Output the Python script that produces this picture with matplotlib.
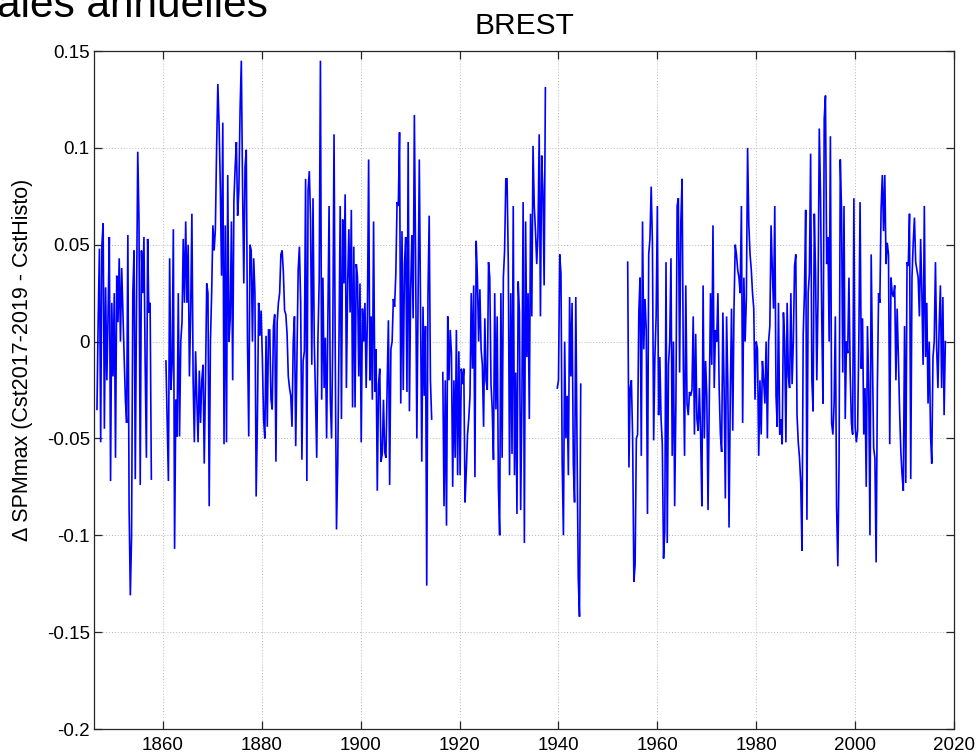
import numpy as np
import matplotlib
matplotlib.use('Agg')
import matplotlib.pyplot as plt

# ---------------- data (quarterly readings, gaps between segments) ----------------
step = 0.25
seg_starts = [1846.65, 1860.6, 1916.6, 1939.75, 1954.0]

seg_a = [-0.035, 0.012, 0.048, -0.052, 0.05, 0.061, -0.045, 0.028, -0.02, 0.015,
         0.054, -0.072, 0.02, -0.018, 0.025, -0.06, 0.034, 0.01, 0.043, 0.0,
         0.038, 0.015, -0.008, -0.03, -0.042, 0.055, -0.086, -0.131, -0.1, 0.025,
         0.047, -0.071, 0.02, 0.098, 0.062, -0.074, 0.047, 0.025, 0.054, -0.012,
         -0.06, 0.053, 0.015, 0.02, -0.071]

seg_b = [-0.01, -0.041, -0.072, 0.043, -0.025, -0.012, 0.058, -0.107, -0.03, -0.049,
         0.025, -0.049, 0.0, 0.01, 0.053, 0.02, 0.062, 0.02, 0.05, -0.018,
         0.015, 0.066, -0.02, -0.052, -0.005, -0.03, -0.052, -0.015, -0.042, -0.02,
         -0.012, -0.063, -0.02, 0.03, 0.025, -0.085, 0.0, 0.025, 0.06, 0.047,
         0.058, 0.1, 0.133, 0.112, 0.08, 0.034, 0.113, -0.053, 0.06, -0.052,
         0.086, 0.0, 0.012, 0.062, -0.02, 0.073, 0.09, 0.103, 0.065, 0.078,
         0.12, 0.145, 0.08, 0.03, 0.09, 0.099, 0.0, -0.049, 0.05, 0.047,
         0.0, 0.043, 0.025, -0.08, -0.04, 0.02, 0.003, 0.016, -0.008, -0.04,
         -0.05, 0.003, -0.044, 0.006, 0.006, -0.03, -0.035, 0.008, 0.014, -0.062,
         0.01, 0.02, 0.025, 0.045, 0.047, 0.036, 0.016, 0.014, 0.004, -0.018,
         -0.024, -0.028, -0.044, 0.0, 0.013, -0.054, -0.008, 0.037, 0.049, 0.02,
         -0.061, -0.01, -0.005, 0.084, -0.072, 0.078, 0.088, 0.063, -0.012, 0.074,
         0.0, -0.028, -0.06, 0.002, 0.032, 0.145, -0.03, 0.033, -0.024, 0.002,
         -0.05, 0.01, 0.07, -0.03, -0.05, 0.003, 0.107, -0.008, -0.097, -0.063,
         0.0, 0.07, -0.04, 0.063, 0.03, 0.076, -0.024, 0.029, 0.058, 0.015,
         0.068, -0.034, 0.049, -0.034, 0.04, 0.033, -0.018, 0.03, -0.052, 0.017,
         0.0, 0.02, -0.024, 0.013, 0.094, -0.02, 0.013, -0.03, 0.062, -0.026,
         -0.004, -0.077, -0.022, -0.014, -0.062, -0.058, -0.03, -0.057, -0.06, -0.022,
         0.011, -0.074, -0.004, 0.0, 0.022, 0.018, 0.035, 0.072, 0.07, 0.108,
         -0.032, 0.057, -0.025, 0.04, 0.054, -0.026, 0.103, -0.036, 0.027, 0.055,
         0.012, 0.117, 0.043, -0.05, 0.025, 0.094, 0.013, -0.062, 0.018, -0.028,
         0.008, -0.126, 0.023, 0.065, -0.02, -0.04]

seg_c = [-0.016, -0.085, -0.02, -0.095, 0.013, -0.02, 0.006, -0.006, -0.075, -0.02,
         -0.06, 0.006, -0.069, -0.005, -0.069, -0.014, -0.022, -0.014, -0.083, -0.067,
         -0.048, -0.04, -0.028, 0.025, -0.014, 0.029, -0.07, 0.052, 0.033, 0.0,
         0.027, -0.004, -0.012, -0.044, 0.012, -0.02, -0.025, 0.041, 0.033, -0.022,
         -0.035, -0.061, 0.025, -0.035, 0.013, -0.075, -0.1, 0.025, -0.06, 0.033,
         0.047, 0.084, 0.084, 0.04, -0.069, 0.025, -0.058, 0.07, -0.069, -0.016,
         -0.089, 0.031, 0.015, -0.087, -0.03, 0.072, -0.104, 0.062, -0.008, 0.025,
         -0.04, 0.066, 0.013, 0.101, 0.07, 0.057, 0.04, 0.056, 0.107, 0.013,
         0.096, 0.078, 0.029, 0.131]

seg_d = [-0.024, -0.02, 0.045, 0.035, -0.063, -0.1, 0.0, -0.05, -0.028, -0.069,
         0.023, -0.018, 0.02, -0.063, -0.083, 0.023, -0.053, -0.122, -0.142, -0.022]

seg_e = [0.041, -0.065, -0.024, -0.02, -0.05, -0.124, -0.115, -0.05, -0.048, 0.015,
         0.033, -0.059, 0.062, -0.004, 0.022, 0.006, -0.089, 0.045, 0.053, 0.08,
         0.051, -0.051, -0.008, 0.013, 0.07, -0.038, -0.008, -0.04, -0.053, -0.112,
         -0.098, 0.041, -0.104, -0.012, 0.0, 0.043, -0.059, 0.0, -0.085, -0.032,
         0.07, 0.074, -0.016, 0.062, 0.084, -0.012, -0.059, 0.029, -0.032, -0.038,
         -0.026, -0.028, -0.025, 0.013, -0.048, 0.004, -0.04, -0.046, -0.024, -0.048,
         -0.085, 0.029, -0.05, -0.01, -0.028, -0.087, -0.032, 0.025, -0.012, 0.06,
         -0.024, 0.006, 0.0, 0.025, -0.024, -0.048, -0.057, 0.015, -0.024, -0.081,
         0.013, -0.022, -0.096, -0.028, 0.017, -0.046, 0.017, 0.05, 0.045, 0.037,
         0.033, 0.025, 0.07, -0.042, 0.033, 0.0, 0.022, 0.1, 0.06, 0.045,
         0.037, 0.025, 0.017, -0.03, 0.0, -0.004, -0.059, -0.02, -0.048, -0.01,
         -0.02, -0.032, 0.0, -0.05, 0.0, 0.008, 0.06, 0.037, 0.017, 0.07,
         -0.028, -0.044, 0.02, -0.048, -0.04, -0.053, 0.015, 0.0, -0.052, 0.02,
         -0.018, -0.024, 0.025, -0.022, 0.0, 0.039,
         0.045, -0.038, -0.052, -0.06, -0.073, -0.108, 0.004, 0.025, 0.068, -0.092,
         0.025, 0.035, 0.097, -0.02, -0.036, 0.066, 0.035, -0.02, 0.023, 0.11,
         0.076, 0.012, -0.032, 0.115, 0.127, 0.04, 0.054, 0.0, 0.106, -0.042,
         -0.048, -0.032, 0.013, -0.085, -0.116, -0.063, 0.094, 0.068, -0.016, 0.07,
         -0.04, 0.0, -0.006, 0.033, -0.016, -0.042, -0.048, 0.074, -0.044, -0.052,
         -0.046, 0.0, 0.072, -0.014, 0.012, -0.048, -0.024, -0.075, 0.008, -0.024,
         -0.1, 0.045, -0.008, -0.055, -0.06, -0.114, -0.024, 0.025, 0.02, 0.068,
         0.086, 0.057, 0.086, 0.04, 0.051, 0.045, -0.053, 0.033, 0.025, 0.023,
         0.029, -0.02, 0.017, -0.008, -0.036, -0.057, -0.069, -0.077, 0.008, -0.073,
         0.041, 0.039, 0.066, -0.071, 0.033, 0.051, 0.064, 0.041, 0.037, 0.033,
         0.013, 0.053, 0.025, -0.012, 0.07, -0.008, 0.02, -0.032, 0.0, -0.048,
         -0.063, -0.008, 0.0, 0.041, -0.004, -0.024, 0.008, 0.029, -0.024, 0.023,
         -0.038, 0.0]

segments = [seg_a, seg_b, seg_c, seg_d, seg_e]

x_ticks = [1860, 1880, 1900, 1920, 1940, 1960, 1980, 2000, 2020]
y_ticks = [-0.2, -0.15, -0.1, -0.05, 0, 0.05, 0.1, 0.15]
y_ticklabels = ['-0.2', '-0.15', '-0.1', '-0.05', '0', '0.05', '0.1', '0.15']

title = 'BREST'
ylabel = '\u0394 SPMmax (Cst2017-2019 - CstHisto)'
header = 'ales annuelles'

# ---------------- figure ----------------
plt.rcParams['font.family'] = ['Liberation Sans', 'DejaVu Sans']

W, H = 978, 754
fig = plt.figure(figsize=(W / 100, H / 100), dpi=100)
ax = fig.add_axes([94 / W, (H - 729) / H, 860 / W, 678 / H])

for start, vals in zip(seg_starts, segments):
    t = start + step * np.arange(len(vals))
    ax.plot(t, vals, color='#0000ff', lw=1.2, solid_joinstyle='miter')

ax.set_xlim(1846.05, 2020)
ax.set_ylim(-0.2, 0.15)
ax.set_xticks(x_ticks)
ax.set_yticks(y_ticks)
ax.set_yticklabels(y_ticklabels)
ax.grid(True, linestyle=(0, (1, 2)), color='#b8b8b8', lw=0.7)
ax.tick_params(direction='in', length=6, width=0.9, top=True, right=True,
               labelsize=13.5, colors='#262626', labelcolor='black')
ax.tick_params(axis='y', pad=3)
ax.tick_params(axis='x', pad=6)
for s in ax.spines.values():
    s.set_color('#262626')
    s.set_linewidth(0.9)

ax.set_title(title, fontsize=21.5, pad=12)
ax.set_ylabel(ylabel, fontsize=15.5)
ax.yaxis.set_label_coords(-0.071, 0.545)

fig.text(-0.003, 1 - 17 / H, header, fontsize=30.5, ha='left', va='baseline')

fig.savefig('out.png', dpi=100)
